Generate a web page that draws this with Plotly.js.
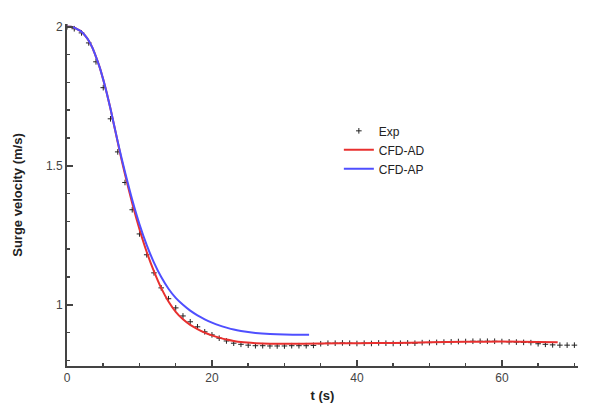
<!DOCTYPE html>
<html>
<head>
<meta charset="utf-8">
<script src="https://cdn.plot.ly/plotly-3.0.1.min.js"></script>
<style>html,body{margin:0;padding:0;background:#fff}#chart{width:610px;height:411px}</style>
</head>
<body>
<div id="chart"></div>
<script>
// Experimental surge velocity (every 1 s)
const expT = [0,1,2,3,4,5,6,7,8,9,10,11,12,13,14,15,16,17,18,19,20,21,22,23,24,25,26,27,28,29,30,31,32,33,34,35,36,37,38,39,40,41,42,43,44,45,46,47,48,49,50,51,52,53,54,55,56,57,58,59,60,61,62,63,64,65,66,67,68,69,70];
const expV = [2.0,1.993,1.978,1.942,1.874,1.781,1.669,1.550,1.440,1.342,1.255,1.180,1.115,1.061,1.022,0.989,0.960,0.939,0.921,0.903,0.892,0.880,0.870,0.862,0.858,0.855,0.853,0.853,0.852,0.852,0.852,0.853,0.853,0.853,0.854,0.860,0.862,0.862,0.863,0.862,0.861,0.862,0.861,0.863,0.862,0.861,0.862,0.863,0.862,0.864,0.864,0.865,0.866,0.867,0.868,0.868,0.869,0.869,0.869,0.869,0.868,0.867,0.866,0.865,0.864,0.860,0.858,0.856,0.855,0.855,0.855];

// CFD-AD
const adT = [0,0.5,1,1.5,2,2.5,3,3.5,4,4.5,5,5.5,6,6.5,7,7.5,8,9,10,11,12,13,14,15,16,17,18,19,20,21,22,23,24,26,28,30,35,40,45,50,55,60,65,67.7];
const adV = [2.0,2.0,1.997,1.99,1.982,1.968,1.95,1.925,1.892,1.855,1.81,1.76,1.705,1.645,1.585,1.525,1.47,1.365,1.272,1.19,1.12,1.06,1.012,0.975,0.948,0.928,0.913,0.900,0.890,0.882,0.875,0.870,0.866,0.862,0.860,0.860,0.861,0.862,0.863,0.865,0.867,0.868,0.866,0.865];

// CFD-AP
const apT = [0,0.5,1,1.5,2,2.5,3,3.5,4,4.5,5,5.5,6,6.5,7,7.5,8,9,10,11,12,13,14,15,16,17,18,19,20,21,22,23,24,26,28,30,33.4];
const apV = [2.0,2.0,1.997,1.99,1.982,1.968,1.95,1.925,1.892,1.855,1.81,1.76,1.705,1.646,1.587,1.531,1.478,1.378,1.29,1.215,1.152,1.10,1.058,1.025,1.0,0.979,0.962,0.948,0.936,0.926,0.918,0.911,0.906,0.899,0.895,0.893,0.892];

const traces = [
  {x: expT, y: expV, name: 'Exp', type: 'scatter', mode: 'markers',
   marker: {symbol: 'cross-thin', size: 4, color: '#222', line: {width: 1, color: '#222'}}},
  {x: adT, y: adV, name: 'CFD-AD', type: 'scatter', mode: 'lines',
   line: {color: '#e8302f', width: 2, shape: 'spline', smoothing: 0.6}},
  {x: apT, y: apV, name: 'CFD-AP', type: 'scatter', mode: 'lines',
   line: {color: '#4f4fff', width: 2, shape: 'spline', smoothing: 0.6}}
];

const layout = {
  width: 610, height: 411,
  margin: {l: 67, r: 32, t: 24, b: 45},
  paper_bgcolor: '#fff', plot_bgcolor: '#fff',
  font: {family: 'Arial, Liberation Sans, sans-serif', size: 12, color: '#333'},
  showlegend: true,
  legend: {x: 0.532, y: 0.73, xanchor: 'left', yanchor: 'top', bgcolor: 'rgba(0,0,0,0)',
           font: {size: 12, color: '#222'}, tracegroupgap: 0},
  xaxis: {
    range: [0, 70.5], showgrid: false, zeroline: false,
    showline: true, linecolor: '#444', linewidth: 2,
    ticks: 'inside', ticklen: 6, tickwidth: 1.5, tickcolor: '#444',
    tick0: 0, dtick: 20,
    minor: {ticks: 'inside', ticklen: 3, dtick: 5, tick0: 0, tickcolor: '#444'},
    tickfont: {size: 12, color: '#444'},
    title: {text: '<b>t (s)</b>', font: {size: 13, color: '#222'}, standoff: 6}
  },
  yaxis: {
    range: [0.78, 2.01], showgrid: false, zeroline: false,
    showline: true, linecolor: '#444', linewidth: 2,
    ticks: 'inside', ticklen: 6, tickwidth: 1.5, tickcolor: '#444',
    tick0: 0, dtick: 0.5,
    minor: {ticks: 'inside', ticklen: 3, dtick: 0.1, tick0: 0, tickcolor: '#444'},
    tickfont: {size: 12, color: '#444'},
    title: {text: '<b>Surge velocity (m/s)</b>', font: {size: 13, color: '#222'}, standoff: 20}
  }
};

Plotly.newPlot('chart', traces, layout, {displayModeBar: false, staticPlot: true});
</script>
</body>
</html>
